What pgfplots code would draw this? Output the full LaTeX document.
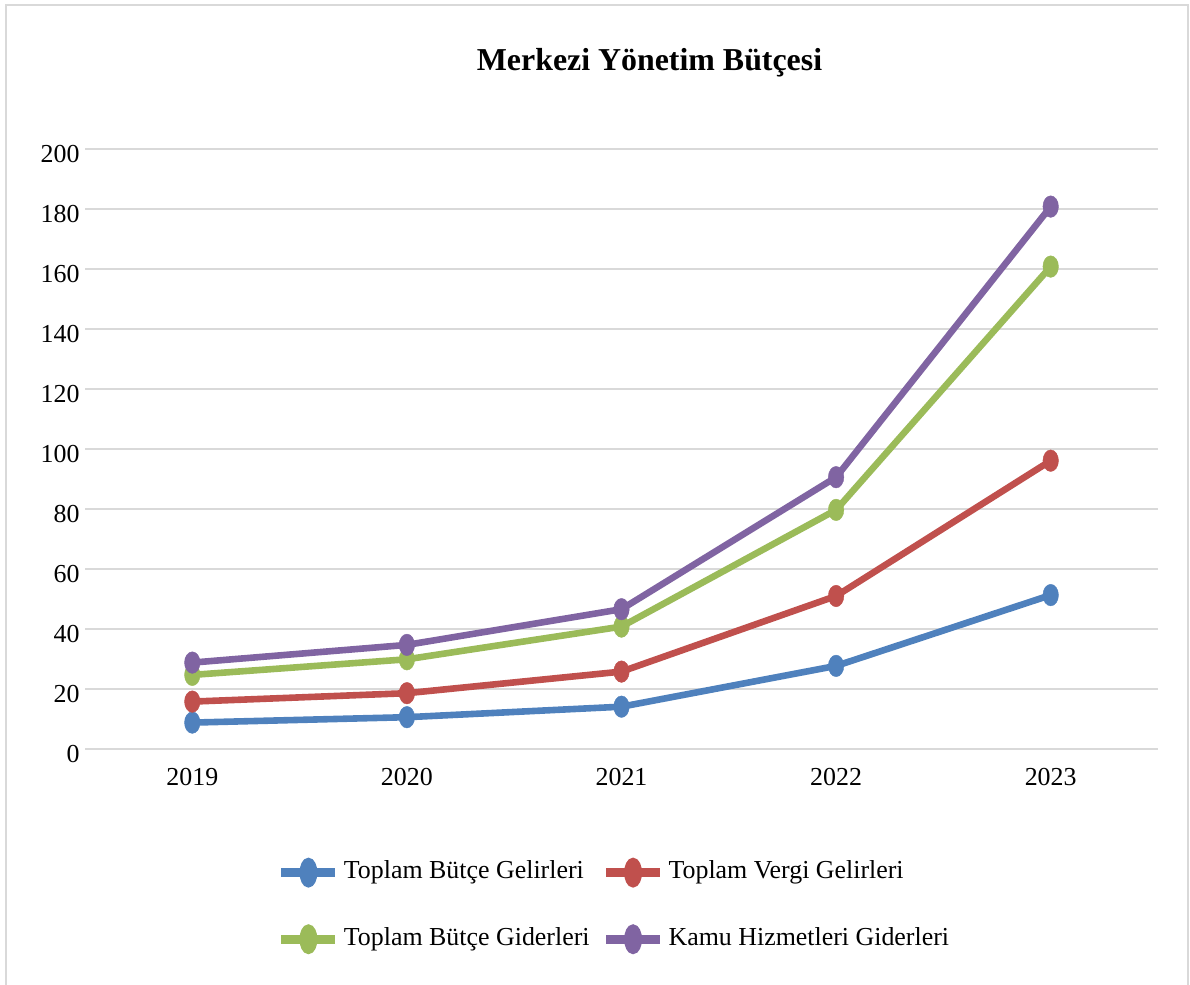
\documentclass[border=0pt]{standalone}
\usepackage{fontspec}
\setmainfont{Liberation Serif}
\usepackage{pgfplots}
\pgfplotsset{compat=1.18}
\definecolor{cblue}{HTML}{4F81BD}
\definecolor{cred}{HTML}{C0504D}
\definecolor{cgreen}{HTML}{9BBB59}
\definecolor{cpurple}{HTML}{8064A2}
\definecolor{cgrid}{HTML}{D9D9D9}
\begin{document}
\begin{tikzpicture}
\path[use as bounding box] (0,0) rectangle (595bp,492.5bp);
\draw[cgrid, line width=1bp] (3bp,0) -- (3bp,490bp) -- (594bp,490bp) -- (594bp,0);
\node[font=\fontsize{16}{19}\selectfont\bfseries] at (324.75bp,461bp) {Merkezi Yönetim Bütçesi};
\begin{axis}[
  at={(42.5bp,118bp)}, anchor=south west,
  scale only axis, width=536.5bp, height=300bp,
  xmin=-0.5, xmax=4.5, ymin=0, ymax=200,
  xtick={0,1,2,3,4}, xticklabels={2019,2020,2021,2022,2023},
  ytick={0,20,...,200},
  major tick length=0pt,
  axis line style={draw=none},
  ymajorgrids, grid style={cgrid, line width=1bp},
  tick label style={font=\fontsize{13}{15}\selectfont, inner sep=0pt},
  /pgf/number format/assume math mode=true,
  yticklabel style={xshift=-2.5bp, yshift=-2.75bp},
  xticklabel style={yshift=-9.5bp},
  every axis plot/.append style={line width=3.3bp, mark=*, mark size=5.4bp,
     mark options={xscale=0.72, line width=0.2pt}},
  legend image code/.code={\draw[#1, line width=4.5bp, mark=none] (0bp,0bp) -- (27bp,0bp);
     \fill[#1, mark=none] (13.5bp,0bp) ellipse [x radius=2.8bp, y radius=5.75bp];},
  legend columns=2,
  legend cell align=left,
  legend style={at={(0.1789,-0.1814)}, anchor=north west, draw=none, fill=none,
     inner sep=0pt, outer sep=0pt, font=\fontsize{13}{15}\selectfont,
     row sep=18.5bp,
     nodes={inner sep=0pt, text height=9bp, text depth=3bp},
     /tikz/every odd column/.style={column sep=2bp},
     /tikz/every even column/.style={column sep=6bp}},
]
\addplot[cblue] coordinates {(0,8.8) (1,10.6) (2,14.1) (3,27.7) (4,51.3)};
\addlegendentry{Toplam Bütçe Gelirleri}
\addplot[cred] coordinates {(0,15.8) (1,18.6) (2,25.8) (3,51.0) (4,96.1)};
\addlegendentry{Toplam Vergi Gelirleri}
\addplot[cgreen] coordinates {(0,24.7) (1,29.9) (2,40.8) (3,79.7) (4,160.8)};
\addlegendentry{Toplam Bütçe Giderleri}
\addplot[cpurple] coordinates {(0,28.8) (1,34.7) (2,46.6) (3,90.6) (4,180.8)};
\addlegendentry{Kamu Hizmetleri Giderleri}
\end{axis}
\end{tikzpicture}
\end{document}
